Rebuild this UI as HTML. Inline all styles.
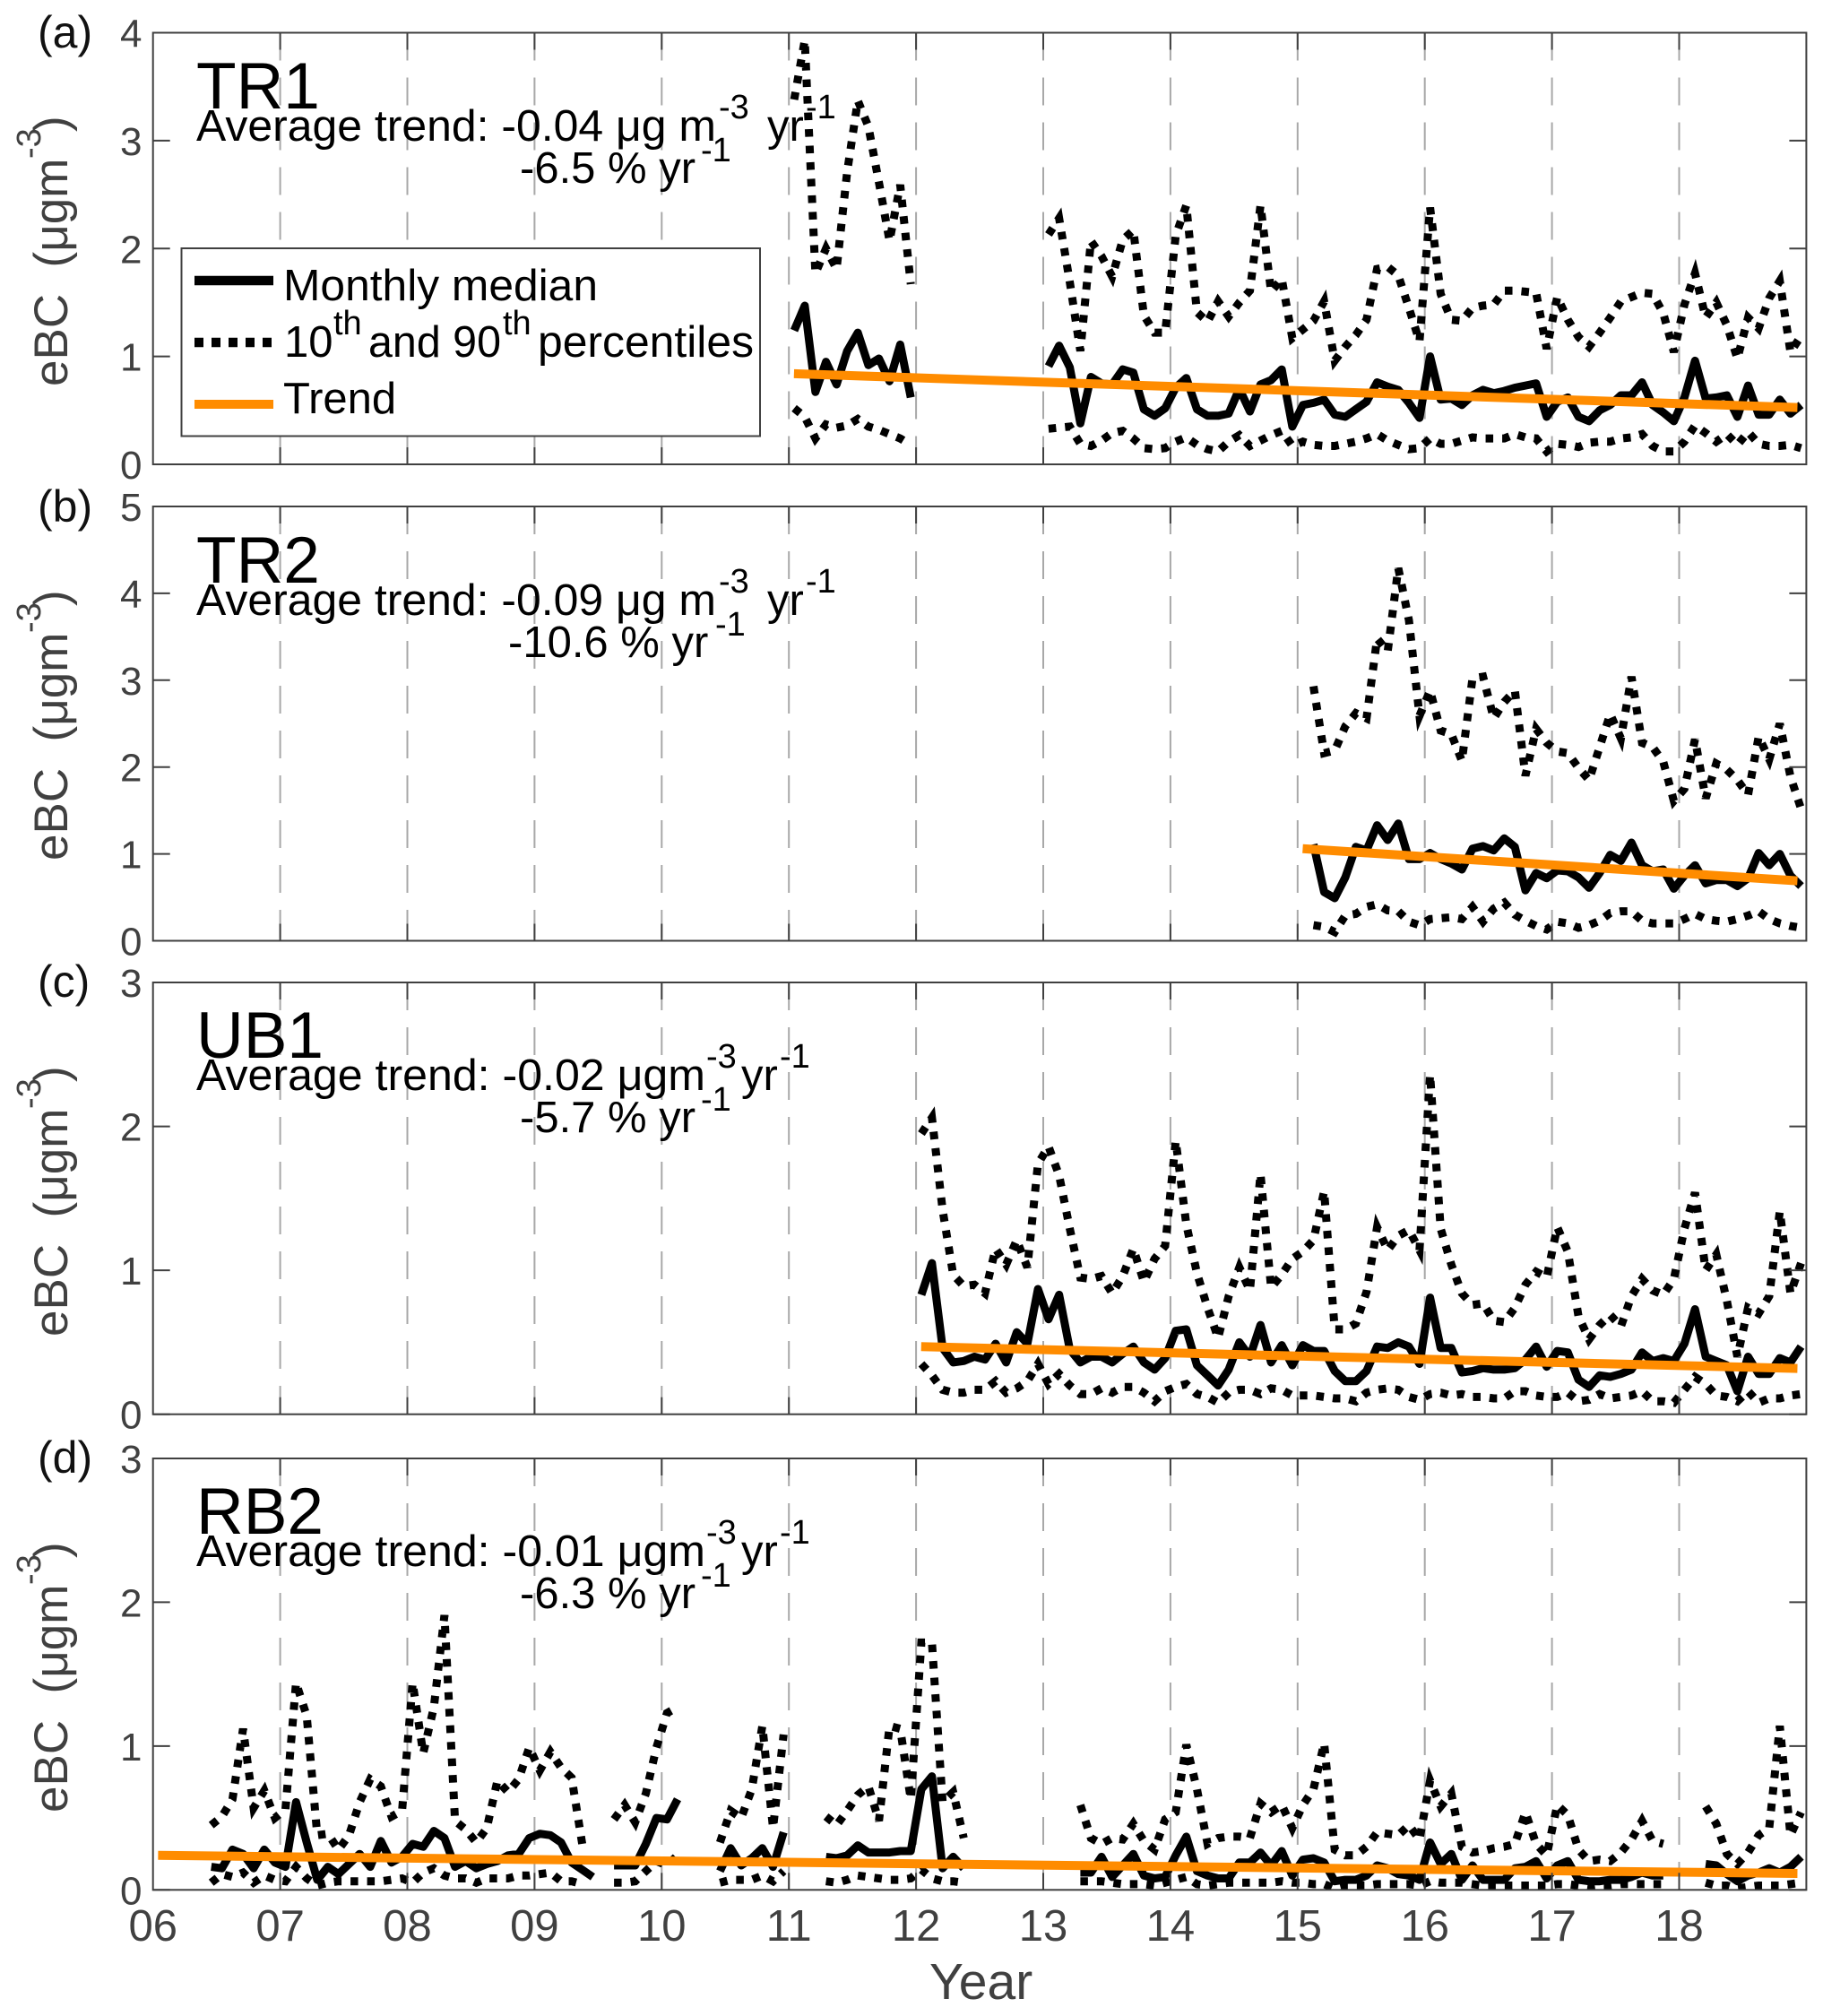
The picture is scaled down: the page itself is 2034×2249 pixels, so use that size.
<!DOCTYPE html>
<html lang="en">
<head>
<meta charset="utf-8">
<title>eBC trends</title>
<style>
html,body{margin:0;padding:0;background:#fff;width:2034px;height:2249px;overflow:hidden}
svg{display:block;font-family:"Liberation Sans",Arial,sans-serif}
text{white-space:pre}
.note{font-size:49px;fill:#000}
.sup{font-size:38px;fill:#000}
.site{font-size:73px;fill:#000}
.letter{font-size:50px;fill:#111}
.ylab{font-size:53px;fill:#404040}
.ylabsup{font-size:38px;fill:#404040}
.leg{font-size:49px;fill:#000}
</style>
</head>
<body>
<svg id="fig" xmlns="http://www.w3.org/2000/svg" width="2034" height="2249" viewBox="0 0 2034 2249">
  <rect width="2034" height="2249" fill="#fff"/>
  <g id="layer-grid"></g>

  <g id="layer-notes">
    <text class="letter" x="42" y="53">(a)</text>
    <text class="letter" x="42" y="582">(b)</text>
    <text class="letter" x="42" y="1112">(c)</text>
    <text class="letter" x="42" y="1643">(d)</text>

    <text class="site" x="219" y="121">TR1</text>
    <text class="site" x="219" y="650">TR2</text>
    <text class="site" x="219" y="1180">UB1</text>
    <text class="site" x="219" y="1711">RB2</text>

    <g>
      <text class="note" x="219" y="157" textLength="580" lengthAdjust="spacingAndGlyphs">Average trend: -0.04 μg m</text>
      <text class="sup" x="802" y="132">-3</text>
      <text class="note" x="856" y="157">yr</text>
      <text class="sup" x="899" y="132">-1</text>
      <text class="note" x="580" y="204">-6.5 % yr</text>
      <text class="sup" x="782" y="180">-1</text>
    </g>
    <g>
      <text class="note" x="219" y="686" textLength="580" lengthAdjust="spacingAndGlyphs">Average trend: -0.09 μg m</text>
      <text class="sup" x="802" y="661">-3</text>
      <text class="note" x="856" y="686">yr</text>
      <text class="sup" x="899" y="661">-1</text>
      <text class="note" x="567" y="733">-10.6 % yr</text>
      <text class="sup" x="798" y="709">-1</text>
    </g>
    <g>
      <text class="note" x="219" y="1216" textLength="568" lengthAdjust="spacingAndGlyphs">Average trend: -0.02 μgm</text>
      <text class="sup" x="788" y="1191">-3</text>
      <text class="note" x="827" y="1216">yr</text>
      <text class="sup" x="870" y="1191">-1</text>
      <text class="note" x="580" y="1263">-5.7 % yr</text>
      <text class="sup" x="782" y="1239">-1</text>
    </g>
    <g>
      <text class="note" x="219" y="1747" textLength="568" lengthAdjust="spacingAndGlyphs">Average trend: -0.01 μgm</text>
      <text class="sup" x="788" y="1722">-3</text>
      <text class="note" x="827" y="1747">yr</text>
      <text class="sup" x="870" y="1722">-1</text>
      <text class="note" x="580" y="1794">-6.3 % yr</text>
      <text class="sup" x="782" y="1770">-1</text>
    </g>

    <g transform="translate(75,431) rotate(-90)">
      <text class="ylab" x="0" y="0">eBC  (μgm</text><text class="ylabsup" x="254" y="-30">-3</text><text class="ylab" x="284" y="0">)</text>
    </g>
    <g transform="translate(75,960) rotate(-90)">
      <text class="ylab" x="0" y="0">eBC  (μgm</text><text class="ylabsup" x="254" y="-30">-3</text><text class="ylab" x="284" y="0">)</text>
    </g>
    <g transform="translate(75,1491) rotate(-90)">
      <text class="ylab" x="0" y="0">eBC  (μgm</text><text class="ylabsup" x="254" y="-30">-3</text><text class="ylab" x="284" y="0">)</text>
    </g>
    <g transform="translate(75,2022) rotate(-90)">
      <text class="ylab" x="0" y="0">eBC  (μgm</text><text class="ylabsup" x="254" y="-30">-3</text><text class="ylab" x="284" y="0">)</text>
    </g>

    <text x="1037" y="2230" font-size="57" fill="#404040">Year</text>
  </g>

  <g id="layer-series"></g>
  <g id="layer-axes"></g>

  <g id="legend">
    <rect x="202.5" y="277" width="645.5" height="209.5" fill="#fff" stroke="#404040" stroke-width="2"/>
    <line x1="217" x2="305" y1="313" y2="313" stroke="#000" stroke-width="10.5"/>
    <text class="leg" x="316" y="335" textLength="351" lengthAdjust="spacingAndGlyphs">Monthly median</text>
    <line x1="217" x2="305" y1="382" y2="382" stroke="#000" stroke-width="10.5" stroke-dasharray="10 9"/>
    <g>
      <text class="leg" x="317" y="398">10</text>
      <text class="sup" x="372" y="373">th</text>
      <text class="leg" x="411" y="398" textLength="148" lengthAdjust="spacingAndGlyphs">and 90</text>
      <text class="sup" x="561" y="373">th</text>
      <text class="leg" x="600" y="398" textLength="241" lengthAdjust="spacingAndGlyphs">percentiles</text>
    </g>
    <line x1="217" x2="305" y1="451" y2="451" stroke="#ff8c00" stroke-width="10"/>
    <text class="leg" x="316" y="461">Trend</text>
  </g>

  <g id="layer-xticks"></g>
</svg>

<script>
// ---- shared axis data ----
const xTickYears = [2006,2007,2008,2009,2010,2011,2012,2013,2014,2015,2016,2017,2018];
const xTickLabels = ["06","07","08","09","10","11","12","13","14","15","16","17","18"];
const N = null;

// ---- panel (a) TR1, series begin Jan 2011 ----
const tr1Median = [
 1.24,1.47,.67,.95,.74,1.05,1.22,.92,.98,.77,1.11,.62,
 N,N,N,N,N,N,N,N,N,N,N,N,
 .91,1.10,.9,.38,.81,.75,.74,.88,.85,.51,.45,.52,
 .71,.8,.51,.45,.45,.47,.7,.49,.74,.78,.88,.35,
 .55,.57,.6,.46,.44,.51,.58,.76,.72,.69,.57,.43,
 1.0,.6,.61,.55,.64,.69,.66,.68,.71,.73,.75,.44,
 .58,.62,.44,.40,.5,.55,.64,.64,.76,.55,.48,.4,
 .62,.96,.61,.62,.64,.44,.73,.46,.46,.6,.47,.55];
const tr1P90 = [
 3.38,3.93,1.77,2.0,1.81,2.71,3.37,3.13,2.61,2.07,2.59,1.67,
 N,N,N,N,N,N,N,N,N,N,N,N,
 2.13,2.28,1.69,1.05,2.07,1.93,1.74,2.08,2.17,1.38,1.22,1.22,
 2.12,2.4,1.41,1.32,1.51,1.37,1.5,1.61,2.4,1.6,1.72,1.17,
 1.25,1.33,1.51,.96,1.09,1.2,1.34,1.81,1.83,1.75,1.45,1.14,
 2.38,1.58,1.34,1.33,1.45,1.47,1.48,1.61,1.61,1.6,1.59,1.07,
 1.55,1.34,1.18,1.09,1.22,1.36,1.51,1.55,1.59,1.58,1.4,1.04,
 1.48,1.77,1.36,1.5,1.29,.98,1.36,1.26,1.54,1.7,1.04,1.19];
const tr1P10 = [
 .52,.44,.24,.37,.34,.36,.42,.35,.32,.28,.24,.18,
 N,N,N,N,N,N,N,N,N,N,N,N,
 .33,.34,.35,.19,.17,.22,.29,.31,.24,.15,.14,.15,
 .21,.25,.18,.14,.12,.21,.27,.17,.22,.27,.31,.17,
 .21,.18,.17,.17,.19,.21,.24,.28,.22,.18,.14,.15,
 .24,.19,.19,.22,.25,.24,.24,.24,.28,.25,.24,.12,
 .19,.18,.16,.2,.21,.21,.24,.25,.28,.17,.12,.12,
 .21,.36,.29,.21,.28,.18,.3,.19,.17,.17,.18,.15];
const tr1TrendYears = [2011.04,2018.93];
const tr1TrendValues = [.84,.526];
const tr1YTicks = [0,1,2,3,4];

// ---- panel (b) TR2, series begin Jan 2015 ----
const tr2Median = [
 N,1.11,.56,.49,.73,1.08,1.04,1.33,1.16,1.35,.94,.94,
 1.01,.94,.89,.82,1.06,1.09,1.04,1.18,1.08,.58,.78,.72,
 .81,.8,.73,.61,.78,.99,.92,1.13,.87,.8,.82,.6,
 .75,.87,.66,.7,.7,.63,.72,1.01,.87,1.0,.75,.63];
const tr2P90 = [
 N,2.93,2.16,2.19,2.47,2.62,2.56,3.48,3.33,4.29,3.69,2.59,
 2.88,2.42,2.38,2.07,3.02,3.04,2.56,2.75,2.88,1.9,2.44,2.28,
 2.18,2.16,1.99,1.85,2.23,2.61,2.33,3.04,2.28,2.23,2.06,1.61,
 1.75,2.32,1.64,2.04,1.97,1.85,1.68,2.35,2.09,2.5,1.89,1.52];
const tr2P10 = [
 N,.18,.16,.1,.29,.31,.39,.42,.35,.34,.22,.18,
 .25,.26,.27,.25,.39,.22,.37,.44,.3,.23,.17,.13,
 .22,.2,.15,.18,.23,.32,.34,.34,.23,.2,.2,.2,
 .25,.31,.25,.23,.22,.25,.29,.34,.25,.2,.17,.15];
const tr2TrendYears = [2015.04,2018.93];
const tr2TrendValues = [1.06,.69];
const tr2YTicks = [0,1,2,3,4,5];

// ---- panel (c) UB1, series begin Jan 2012 ----
const ub1Median = [
 .83,1.05,.46,.36,.37,.4,.38,.49,.36,.57,.49,.87,
 .66,.83,.45,.36,.4,.4,.36,.42,.47,.36,.31,.39,
 .58,.59,.34,.27,.2,.31,.5,.4,.62,.36,.48,.34,
 .48,.44,.44,.3,.23,.23,.3,.47,.46,.5,.47,.35,
 .81,.46,.46,.29,.3,.32,.31,.31,.32,.38,.47,.33,
 .44,.43,.24,.19,.27,.26,.28,.31,.43,.37,.39,.37,
 .49,.73,.4,.37,.34,.16,.4,.28,.28,.39,.36,.47];
const ub1P90 = [
 1.95,2.06,1.42,.97,.89,.9,.84,1.15,1.04,1.21,1.02,1.74,
 1.86,1.66,1.29,.95,.94,.96,.84,.96,1.15,.92,1.08,1.17,
 1.9,1.32,.98,.74,.53,.82,1.02,.86,1.67,.88,.97,1.08,
 1.13,1.21,1.55,.59,.59,.63,.85,1.3,1.14,1.24,1.28,1.14,
 2.36,1.29,1.04,.84,.76,.77,.65,.64,.74,.9,.99,.95,
 1.3,1.13,.68,.52,.62,.69,.61,.82,.94,.86,.83,.94,
 1.29,1.54,1.0,1.11,.79,.4,.74,.7,.82,1.41,.84,1.05];
const ub1P10 = [
 .35,.27,.17,.15,.15,.17,.17,.23,.15,.18,.23,.35,
 .21,.28,.2,.14,.14,.18,.15,.19,.19,.15,.09,.16,
 .19,.21,.14,.12,.08,.15,.17,.17,.14,.18,.17,.13,
 .13,.13,.12,.11,.11,.09,.15,.17,.18,.17,.12,.1,
 .14,.15,.13,.14,.12,.12,.11,.11,.16,.16,.13,.12,
 .12,.15,.09,.1,.14,.11,.12,.13,.16,.09,.09,.08,
 .17,.26,.21,.13,.12,.09,.16,.08,.11,.11,.13,.14];
const ub1TrendYears = [2012.04,2018.93];
const ub1TrendValues = [.47,.318];
const ub1YTicks = [0,1,2,3];

// ---- panel (d) RB2, series begin Jan 2006 ----
const rb2Median = [
 N,N,N,N,N,.16,.15,.28,.25,.15,.28,.19,
 .16,.61,.33,.07,.16,.11,.18,.25,.16,.34,.19,.23,
 .32,.3,.41,.36,.16,.2,.15,.18,.2,.24,.25,.36,
 .39,.38,.33,.19,.14,.09,N,.17,.17,.17,.32,.5,
 .49,.63,N,N,N,.13,.29,.17,.22,.29,.16,.4,
 N,N,N,.23,.22,.24,.31,.26,.26,.26,.27,.27,
 .7,.79,.15,.23,.15,N,N,N,N,N,N,N,
 N,N,N,.12,.12,.23,.09,.17,.25,.1,.08,.09,
 .24,.37,.13,.1,.08,.08,.19,.19,.26,.17,.27,.1,
 .21,.22,.19,.06,.07,.07,.1,.17,.15,.11,.1,.07,
 .33,.18,.25,.07,.17,.07,.07,.07,.15,.16,.2,.08,
 .17,.2,.07,.06,.06,.07,.07,.09,.12,.1,.1,N,
 N,N,.18,.17,.11,.06,.1,.12,.15,.12,.16,.23];
const rb2P90 = [
 N,N,N,N,N,.45,.51,.63,1.12,.57,.69,.5,
 .56,1.44,1.21,.38,.39,.28,.38,.61,.77,.72,.51,.55,
 1.44,.95,1.27,1.91,.48,.42,.33,.43,.76,.68,.77,.99,
 .83,.96,.85,.78,.32,N,N,.49,.59,.47,.67,.99,
 1.23,1.27,N,N,N,.33,.55,.5,.7,1.14,.43,1.08,
 N,N,N,.51,.45,.55,.66,.72,.48,1.14,1.12,.63,
 1.72,1.72,.61,.68,.36,N,N,N,N,N,N,N,
 N,N,N,.59,.36,.32,.36,.35,.46,.34,.28,.49,
 .54,1.01,.7,.32,.36,.37,.37,.36,.6,.54,.59,.43,
 .59,.7,1.02,.28,.24,.24,.3,.4,.39,.38,.45,.35,
 .76,.58,.67,.3,.26,.27,.29,.3,.32,.54,.32,.24,
 .59,.52,.28,.2,.21,.2,.26,.35,.48,.34,.32,N,
 N,N,.58,.46,.25,.18,.26,.38,.43,1.14,.38,.54];
const rb2P10 = [
 N,N,N,N,N,.05,.11,.09,.12,.05,.1,.07,
 .06,.16,.08,.03,.05,.06,.06,.06,.06,.06,.07,.08,
 .05,.12,.15,.1,.08,.08,.05,.08,.08,.08,.1,.1,
 .11,.12,.06,.06,.04,N,N,.05,.05,.06,.13,.2,
 .17,.24,N,N,N,.05,.07,.07,.07,.1,.06,.13,
 N,N,N,.06,.05,.07,.1,.09,.08,.07,.07,.08,
 .14,.08,.06,.06,.05,N,N,N,N,N,N,N,
 N,N,N,.06,.06,.06,.05,.04,.04,.04,.03,.05,
 .07,.09,.04,.03,.04,.05,.05,.05,.05,.05,.06,.05,
 .05,.04,.04,.01,.03,.03,.03,.04,.04,.04,.04,.03,
 .06,.05,.05,.05,.04,.03,.03,.03,.03,.03,.03,.03,
 .04,.04,.03,.02,.03,.03,.04,.04,.04,.04,.04,N,
 N,N,.05,.03,.03,.01,.02,.03,.03,.03,.04,.05];
const rb2TrendYears = [2006.04,2018.93];
const rb2TrendValues = [.24,.114];
const rb2YTicks = [0,1,2,3];

// ---- panel assembly (frame geometry only; values above) ----
const SVGNS = "http://www.w3.org/2000/svg";
const axLeft = 170.7, axYearWidth = 141.9, axRight = axLeft + 13 * axYearWidth;

function xScale(t){ return axLeft + (t - 2006) * axYearWidth; }
function monthX(startYear, i){ return xScale(startYear + (i + 0.5) / 12); }
function yScaler(p){ return v => p.bottom - (v / p.max) * (p.bottom - p.top); }

function seriesPath(values, startYear, y){
  let d = "", pen = false;
  values.forEach((v, i) => {
    if (v === null) { pen = false; return; }
    d += (pen ? "L" : "M") + monthX(startYear, i).toFixed(1) + " " + y(v).toFixed(1);
    pen = true;
  });
  return d;
}

const gridLayer = document.getElementById("layer-grid");
const seriesLayer = document.getElementById("layer-series");
const axesLayer = document.getElementById("layer-axes");
const xTickLayer = document.getElementById("layer-xticks");
const defs = document.createElementNS(SVGNS, "defs");
document.getElementById("fig").appendChild(defs);

function drawPanel(p){
  const y = yScaler(p);

  xTickYears.forEach((yr, i) => {
    if (i === 0) return;
    const grid = document.createElementNS(SVGNS, "line");
    grid.setAttribute("x1", xScale(yr));
    grid.setAttribute("x2", xScale(yr));
    grid.setAttribute("y1", p.top);
    grid.setAttribute("y2", p.bottom);
    grid.setAttribute("stroke", "#a8a8a8");
    grid.setAttribute("stroke-width", "2");
    grid.setAttribute("stroke-dasharray", "31 19");
    
    
    gridLayer.appendChild(grid);
  });

  const clip = document.createElementNS(SVGNS, "clipPath");
  clip.setAttribute("id", "clip-" + p.id);
  const clipRect = document.createElementNS(SVGNS, "rect");
  clipRect.setAttribute("x", axLeft);
  clipRect.setAttribute("y", p.top);
  clipRect.setAttribute("width", axRight - axLeft);
  clipRect.setAttribute("height", p.bottom - p.top);
  clip.appendChild(clipRect);
  defs.appendChild(clip);

  const group = document.createElementNS(SVGNS, "g");
  group.setAttribute("clip-path", "url(#clip-" + p.id + ")");
  
  
  seriesLayer.appendChild(group);

  const p90Line = document.createElementNS(SVGNS, "path");
  p90Line.setAttribute("d", seriesPath(p.p90, p.start, y));
  p90Line.setAttribute("fill", "none");
  p90Line.setAttribute("stroke", "#000");
  p90Line.setAttribute("stroke-width", "9");
  p90Line.setAttribute("stroke-dasharray", "8.5 10");
  p90Line.setAttribute("stroke-linejoin", "miter");
  
  
  group.appendChild(p90Line);

  const p10Line = document.createElementNS(SVGNS, "path");
  p10Line.setAttribute("d", seriesPath(p.p10, p.start, y));
  p10Line.setAttribute("fill", "none");
  p10Line.setAttribute("stroke", "#000");
  p10Line.setAttribute("stroke-width", "9");
  p10Line.setAttribute("stroke-dasharray", "8.5 10");
  p10Line.setAttribute("stroke-linejoin", "miter");
  
  
  group.appendChild(p10Line);

  const medLine = document.createElementNS(SVGNS, "path");
  medLine.setAttribute("d", seriesPath(p.median, p.start, y));
  medLine.setAttribute("fill", "none");
  medLine.setAttribute("stroke", "#000");
  medLine.setAttribute("stroke-width", "9");
  medLine.setAttribute("stroke-linejoin", "round");
  
  
  group.appendChild(medLine);

  const trendLine = document.createElementNS(SVGNS, "line");
  trendLine.setAttribute("x1", xScale(p.trendYears[0]));
  trendLine.setAttribute("x2", xScale(p.trendYears[1]));
  trendLine.setAttribute("y1", y(p.trendValues[0]));
  trendLine.setAttribute("y2", y(p.trendValues[1]));
  trendLine.setAttribute("stroke", "#ff8c00");
  trendLine.setAttribute("stroke-width", "10");
  
  
  group.appendChild(trendLine);

  const box = document.createElementNS(SVGNS, "rect");
  box.setAttribute("x", axLeft);
  box.setAttribute("y", p.top);
  box.setAttribute("width", axRight - axLeft);
  box.setAttribute("height", p.bottom - p.top);
  box.setAttribute("fill", "none");
  box.setAttribute("stroke", "#404040");
  box.setAttribute("stroke-width", "2");
  
  
  axesLayer.appendChild(box);

  xTickYears.forEach((yr, i) => {
    if (i === 0) return;
    [[p.bottom, p.bottom - 19], [p.top, p.top + 19]].forEach(pair => {
      const tick = document.createElementNS(SVGNS, "line");
      tick.setAttribute("x1", xScale(yr));
      tick.setAttribute("x2", xScale(yr));
      tick.setAttribute("y1", pair[0]);
      tick.setAttribute("y2", pair[1]);
      tick.setAttribute("stroke", "#404040");
      tick.setAttribute("stroke-width", "2");
      
      
      axesLayer.appendChild(tick);
    });
  });

  p.yTicks.forEach(v => {
    [[axLeft, axLeft + 19], [axRight, axRight - 19]].forEach(pair => {
      const tick = document.createElementNS(SVGNS, "line");
      tick.setAttribute("x1", pair[0]);
      tick.setAttribute("x2", pair[1]);
      tick.setAttribute("y1", y(v));
      tick.setAttribute("y2", y(v));
      tick.setAttribute("stroke", "#404040");
      tick.setAttribute("stroke-width", "2");
      
      
      axesLayer.appendChild(tick);
    });
    const label = document.createElementNS(SVGNS, "text");
    label.setAttribute("x", 158.5);
    label.setAttribute("y", y(v) + 16);
    label.setAttribute("text-anchor", "end");
    label.setAttribute("font-size", "44");
    label.setAttribute("fill", "#404040");
    
    
    label.textContent = String(v);
    axesLayer.appendChild(label);
  });
}

const panels = [
  {id:"a", top:36.5, bottom:518, max:4, start:2011, median:tr1Median, p90:tr1P90, p10:tr1P10, trendYears:tr1TrendYears, trendValues:tr1TrendValues, yTicks:tr1YTicks},
  {id:"b", top:565, bottom:1049.5, max:5, start:2015, median:tr2Median, p90:tr2P90, p10:tr2P10, trendYears:tr2TrendYears, trendValues:tr2TrendValues, yTicks:tr2YTicks},
  {id:"c", top:1096, bottom:1577.7, max:3, start:2012, median:ub1Median, p90:ub1P90, p10:ub1P10, trendYears:ub1TrendYears, trendValues:ub1TrendValues, yTicks:ub1YTicks},
  {id:"d", top:1627, bottom:2108.3, max:3, start:2006, median:rb2Median, p90:rb2P90, p10:rb2P10, trendYears:rb2TrendYears, trendValues:rb2TrendValues, yTicks:rb2YTicks}
];
panels.forEach(drawPanel);

xTickYears.forEach((yr, i) => {
  const label = document.createElementNS(SVGNS, "text");
  label.setAttribute("x", xScale(yr));
  label.setAttribute("y", 2165);
  label.setAttribute("text-anchor", "middle");
  label.setAttribute("font-size", "49");
  label.setAttribute("fill", "#404040");
  
  
  label.textContent = xTickLabels[i];
  xTickLayer.appendChild(label);
});

// keep the legend above the axes ticks
document.getElementById("fig").appendChild(document.getElementById("legend"));
</script>
</body>
</html>
